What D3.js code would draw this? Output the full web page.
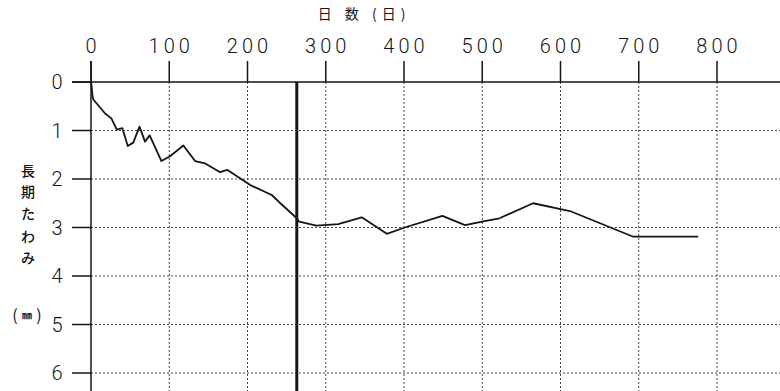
<!DOCTYPE html>
<html>
<head>
<meta charset="utf-8">
<script src="https://cdn.jsdelivr.net/npm/d3@7"></script>
<style>
  html, body { margin: 0; padding: 0; background: #fff; }
  svg { display: block; }
</style>
</head>
<body>
<div id="chart"></div>
<script>
  // Long-term deflection vs. elapsed days
  const days = [0, 1, 2, 3, 18, 26, 33, 40, 47, 54, 62, 69, 75, 90, 101, 118, 133, 146, 165, 174,
    203, 231, 242, 263, 266, 288, 316, 346, 378, 401, 449, 478, 503, 522, 565, 612, 693, 776];
  const deflection = [0, 0.12, 0.3, 0.36, 0.65, 0.75, 0.98, 0.95, 1.32, 1.25, 0.92, 1.23, 1.1, 1.63, 1.53, 1.31, 1.63, 1.68, 1.86, 1.81,
    2.12, 2.33, 2.5, 2.81, 2.88, 2.96, 2.93, 2.79, 3.13, 3.0, 2.76, 2.95, 2.87, 2.81, 2.5, 2.66, 3.19, 3.19];
  const xTicks = [0, 100, 200, 300, 400, 500, 600, 700, 800];
  const yTicks = [0, 1, 2, 3, 4, 5, 6];
  const markerDay = 263;
  const xTitle = "日 数 (日)";
  const yTitle = ["長", "期", "た", "わ", "み"];
  const yUnit = "㎜";

  const W = 780, H = 391;
  const FONT = "Roboto, 'Liberation Sans Narrow', sans-serif";
  const JFONT = "'Noto Sans CJK JP', sans-serif";
  const INK = "#151515";

  const svg = d3.select("#chart").append("svg").attr("width", W).attr("height", H);
  svg.append("rect").attr("width", W).attr("height", H).attr("fill", "#fff");

  // 0 day at x=91, 800 days at x=717; 0 mm at y=82, 6 mm at y=373
  const x = d3.scaleLinear().domain([0, 800]).range([91, 717]);
  const y = d3.scaleLinear().domain([0, 6]).range([82, 373]);

  // dashed grid
  const grid = svg.append("g").attr("stroke", "#444").attr("stroke-width", 1)
    .attr("stroke-dasharray", "2,2");
  xTicks.slice(1).forEach(d => {
    grid.append("line").attr("x1", x(d)).attr("x2", x(d)).attr("y1", y(0)).attr("y2", H);
  });
  yTicks.slice(1).forEach(v => {
    grid.append("line").attr("x1", x(0)).attr("x2", W).attr("y1", y(v)).attr("y2", y(v));
  });

  // axes
  const ax = svg.append("g").attr("stroke", INK).attr("stroke-width", 1.5);
  ax.append("line").attr("x1", 72).attr("x2", W).attr("y1", y(0)).attr("y2", y(0));
  ax.append("line").attr("x1", x(0)).attr("x2", x(0)).attr("y1", 61).attr("y2", H);
  xTicks.forEach(d => {
    ax.append("line").attr("x1", x(d)).attr("x2", x(d)).attr("y1", 61).attr("y2", y(0));
  });
  yTicks.forEach(v => {
    ax.append("line").attr("x1", 72).attr("x2", x(0)).attr("y1", y(v)).attr("y2", y(v));
  });

  // tick labels
  xTicks.forEach(d => {
    svg.append("text").attr("x", x(d) + 2).attr("y", 53)
      .attr("text-anchor", "middle").attr("font-family", FONT).attr("font-size", "20px")
      .attr("font-weight", 300).attr("letter-spacing", "4px").attr("fill", INK).text(d);
  });
  yTicks.forEach(v => {
    svg.append("text").attr("x", 57).attr("y", y(v) + 7)
      .attr("text-anchor", "middle").attr("font-family", FONT).attr("font-size", "20px")
      .attr("font-weight", 300).attr("fill", INK).text(v);
  });

  // titles
  svg.append("text").attr("x", 364).attr("y", 19).attr("text-anchor", "middle")
    .attr("font-family", JFONT).attr("font-size", "14px").attr("letter-spacing", "5px")
    .attr("fill", INK).text(xTitle);
  const yPos = [171, 192, 214, 237, 258];
  yTitle.forEach((c, i) => {
    svg.append("text").attr("x", 28).attr("y", yPos[i] + 5).attr("text-anchor", "middle")
      .attr("font-family", JFONT).attr("font-size", "14px").attr("font-weight", 500)
      .attr("fill", INK).text(c);
  });
  const unit = svg.append("g").attr("font-family", JFONT).attr("fill", INK);
  unit.append("text").attr("x", 15).attr("y", 321).attr("text-anchor", "middle")
    .attr("font-size", "16px").text("(");
  unit.append("text").attr("x", 27).attr("y", 319).attr("text-anchor", "middle")
    .attr("font-size", "10px").attr("font-weight", 700).text(yUnit);
  unit.append("text").attr("x", 39).attr("y", 321).attr("text-anchor", "middle")
    .attr("font-size", "16px").text(")");

  // marker line
  svg.append("line").attr("x1", x(markerDay)).attr("x2", x(markerDay))
    .attr("y1", y(0)).attr("y2", H).attr("stroke", INK).attr("stroke-width", 3);

  // deflection curve
  const pts = days.map((d, i) => [d, deflection[i]]);
  const line = d3.line().x(p => x(p[0])).y(p => y(p[1]));
  svg.append("path").datum(pts).attr("d", line)
    .attr("fill", "none").attr("stroke", INK).attr("stroke-width", 1.8)
    .attr("stroke-linejoin", "round");
</script>
</body>
</html>
